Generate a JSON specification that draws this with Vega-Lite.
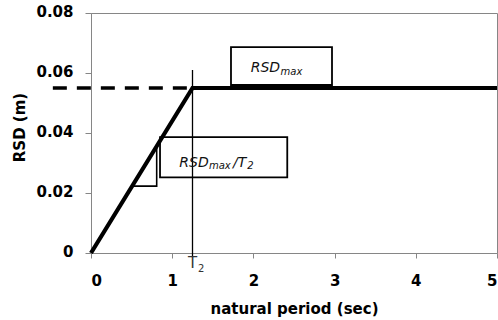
{
  "$schema": "https://vega.github.io/schema/vega-lite/v6.json",
  "width": 406,
  "height": 240,
  "autosize": {"type": "none"},
  "padding": {"left": 91, "top": 13, "right": 1, "bottom": 67},
  "background": "white",
  "datasets": {
    "path": [{"x": 0, "y": 0}, {"x": 1.25, "y": 0.055}, {"x": 5, "y": 0.055}],
    "dash": [{"x": -0.47, "x2": 1.25, "y": 0.055}],
    "tri": [{"x": 0.507, "y": 0.0223}, {"x": 0.809, "y": 0.0223}, {"x": 0.809, "y": 0.0356}],
    "vline": [{"x": 1.25, "y": 0.061, "y2": -0.0012}],
    "boxes": [{"x": 1.724, "x2": 2.968, "y": 0.056, "y2": 0.0686}, {"x": 0.85, "x2": 2.417, "y": 0.0252, "y2": 0.0386}],
    "main": [{"x": 1.967, "y": 0.0604, "text": "RSD"}, {"x": 1.087, "y": 0.0288, "text": "RSD"}, {"x": 1.749, "y": 0.0288, "text": "/T"}],
    "sub": [{"x": 2.335, "y": 0.0592, "text": "max"}, {"x": 1.452, "y": 0.0279, "text": "max"}, {"x": 1.925, "y": 0.0279, "text": "2"}],
    "t2": [{"x": 1.25, "y": -0.005, "text": "T"}],
    "t2sub": [{"x": 1.318, "y": -0.0063, "text": "2"}]
  },
  "encoding": {
    "x": {"field": "x", "type": "quantitative", "scale": {"domain": [0, 5], "nice": false, "zero": false},
      "axis": {"title": "natural period (sec)", "values": [0, 1, 2, 3, 4, 5], "format": "d", "tickSize": 5, "labelPadding": 15, "titleBaseline": "alphabetic", "titleY": 60}},
    "y": {"field": "y", "type": "quantitative", "scale": {"domain": [0, 0.08], "nice": false, "zero": false},
      "axis": {"title": "RSD (m)", "values": [0, 0.02, 0.04, 0.06, 0.08], "format": ".2~f", "tickSize": 6, "labelPadding": 12, "labelOffset": -2, "titleX": -72, "titleY": 114, "titleAlign": "center", "titleBaseline": "middle", "titleAngle": -90}}
  },
  "layer": [
    {"data": {"name": "boxes"}, "mark": {"type": "rect", "fill": "white", "stroke": "black", "strokeWidth": 1.8},
      "encoding": {"x2": {"field": "x2"}, "y2": {"field": "y2"}}},
    {"data": {"name": "dash"}, "mark": {"type": "rule", "stroke": "black", "strokeWidth": 3.5, "strokeDash": [14, 10]},
      "encoding": {"x2": {"field": "x2"}}},
    {"data": {"name": "vline"}, "mark": {"type": "rule", "stroke": "black", "strokeWidth": 1.3},
      "encoding": {"y2": {"field": "y2"}}},
    {"data": {"name": "tri"}, "mark": {"type": "line", "stroke": "black", "strokeWidth": 1.6},
      "encoding": {"order": {"field": "x", "type": "quantitative"}}},
    {"data": {"name": "path"}, "mark": {"type": "line", "stroke": "black", "strokeWidth": 4.2},
      "encoding": {}},
    {"data": {"name": "main"}, "mark": {"type": "text", "align": "left", "baseline": "alphabetic", "font": "DejaVu Sans", "fontStyle": "italic", "fontSize": 14, "color": "#111"},
      "encoding": {"text": {"field": "text"}}},
    {"data": {"name": "sub"}, "mark": {"type": "text", "align": "left", "baseline": "alphabetic", "font": "DejaVu Sans", "fontStyle": "italic", "fontSize": 10, "color": "#111"},
      "encoding": {"text": {"field": "text"}}},
    {"data": {"name": "t2"}, "mark": {"type": "text", "align": "center", "baseline": "alphabetic", "font": "DejaVu Sans", "fontSize": 15, "color": "#333"},
      "encoding": {"text": {"field": "text"}}},
    {"data": {"name": "t2sub"}, "mark": {"type": "text", "align": "left", "baseline": "alphabetic", "font": "DejaVu Sans", "fontSize": 10, "color": "#333"},
      "encoding": {"text": {"field": "text"}}}
  ],
  "config": {
    "view": {"stroke": "#868686", "strokeWidth": 1},
    "axis": {"grid": false, "domainColor": "#868686", "tickColor": "#868686", "labelFont": "DejaVu Sans", "labelFontWeight": "bold", "labelFontSize": 15, "labelColor": "#000", "titleFont": "DejaVu Sans", "titleFontWeight": "bold", "titleFontSize": 15, "titleColor": "#000"}
  }
}
